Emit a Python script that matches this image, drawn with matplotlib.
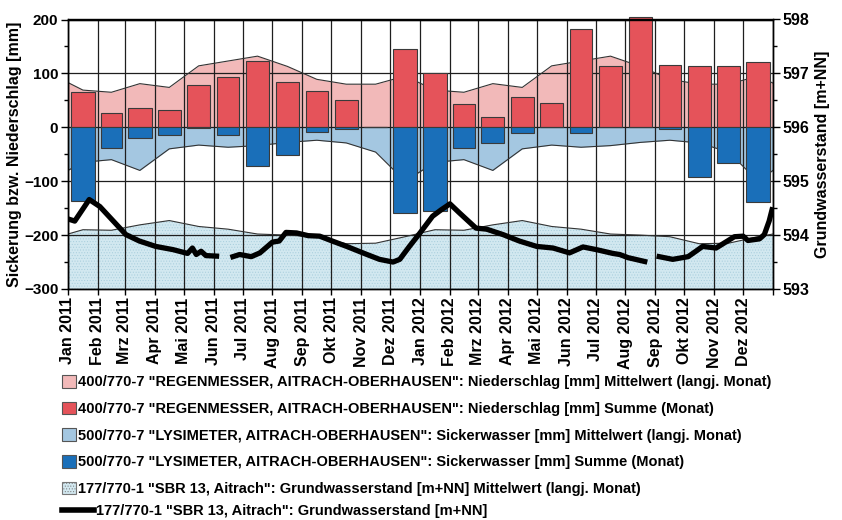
import numpy as np
import pandas as pd
import matplotlib
matplotlib.use('Agg')
import matplotlib.pyplot as plt
import matplotlib.transforms as mtransforms
from matplotlib.patches import Patch
from matplotlib.lines import Line2D

plt.rcParams['font.family'] = ['Liberation Sans', 'DejaVu Sans']
plt.rcParams['font.weight'] = 'bold'
plt.rcParams['hatch.linewidth'] = 0.4

# --- Daten ---
monat_labels = ['Jan 2011', 'Feb 2011', 'Mrz 2011', 'Apr 2011', 'Mai 2011', 'Jun 2011',
                'Jul 2011', 'Aug 2011', 'Sep 2011', 'Okt 2011', 'Nov 2011', 'Dez 2011',
                'Jan 2012', 'Feb 2012', 'Mrz 2012', 'Apr 2012', 'Mai 2012', 'Jun 2012',
                'Jul 2012', 'Aug 2012', 'Sep 2012', 'Okt 2012', 'Nov 2012', 'Dez 2012']

# Niederschlag Summe (Monat) [mm]
niederschlag = [66, 26, 35, 32, 78, 94, 123, 84, 68, 51, 1, 146,
                100, 44, 19, 57, 45, 182, 113, 204, 115, 113, 113, 121]
# Sickerwasser Summe (Monat) [mm]
sickerwasser = [-137, -39, -20, -14, -2, -14, -71, -52, -8, -4, 0, -159,
                -156, -39, -29, -11, 0, -10, 0, 0, -4, -93, -66, -138]

# langj. Monatsmittel (Rand Jan 2011 / Ende Dez 2012 separat)
niederschlag_mittel = [69, 65, 81, 74, 114, 123, 132, 113, 89, 80, 80, 95,
                       69, 65, 81, 74, 114, 123, 132, 113, 89, 80, 80, 95]
niederschlag_mittel_rand = (83, 82)
sicker_mittel = [-65, -60, -80, -40, -33, -37, -34, -28, -24, -29, -46, -100,
                 -65, -60, -80, -40, -33, -37, -34, -28, -24, -29, -46, -100]
sicker_mittel_rand = (-80, -80)
gw_mittel = [594.10, 594.09, 594.19, 594.27, 594.16, 594.11, 594.02, 594.00, 593.97, 593.84, 593.85, 593.97,
             594.10, 594.09, 594.19, 594.27, 594.16, 594.11, 594.02, 594.00, 593.97, 593.84, 593.85, 593.97]
gw_mittel_rand = (594.02, 594.02)

# Grundwasserstand [m+NN] (None = Luecke)
gw_datum = ['2011-01-01', '2011-01-08', '2011-01-23', '2011-02-03', '2011-02-17', '2011-03-02',
            '2011-03-16', '2011-04-02', '2011-04-20', '2011-05-05', '2011-05-10', '2011-05-14',
            '2011-05-19', '2011-05-24', '2011-06-04', '2011-06-12',
            '2011-06-21', '2011-06-28', '2011-07-10', '2011-07-19', '2011-08-01', '2011-08-08',
            '2011-08-15', '2011-08-26', '2011-09-07', '2011-09-19', '2011-10-02', '2011-10-17',
            '2011-11-07', '2011-11-20', '2011-12-04', '2011-12-11', '2011-12-21', '2012-01-01',
            '2012-01-14', '2012-01-23', '2012-01-28', '2012-02-01', '2012-02-11', '2012-02-28',
            '2012-03-10', '2012-03-27', '2012-04-13', '2012-05-01', '2012-05-18', '2012-06-04',
            '2012-06-18', '2012-07-02', '2012-07-19', '2012-07-26', '2012-08-04', '2012-08-09',
            '2012-08-21', '2012-08-28',
            '2012-09-05', '2012-09-19', '2012-10-05', '2012-10-13', '2012-10-20', '2012-11-03',
            '2012-11-12', '2012-11-22', '2012-12-01', '2012-12-06', '2012-12-18', '2012-12-23',
            '2012-12-28', '2012-12-31']
gw_stand = [594.30, 594.26, 594.66, 594.53, 594.26, 594.01,
            593.89, 593.79, 593.73, 593.66, 593.76, 593.64,
            593.70, 593.62, 593.61, None,
            593.60, 593.64, 593.60, 593.67, 593.87, 593.89,
            594.05, 594.04, 593.99, 593.98, 593.89, 593.79,
            593.64, 593.55, 593.50, 593.55, 593.79, 594.04,
            594.35, 594.47, 594.53, 594.58, 594.41, 594.13,
            594.11, 594.01, 593.89, 593.79, 593.76, 593.67,
            593.78, 593.73, 593.66, 593.64, 593.58, 593.56,
            593.51, None,
            593.60, 593.55, 593.60, 593.70, 593.79, 593.76,
            593.86, 593.97, 593.98, 593.90, 593.93, 594.01,
            594.26, 594.47]

farbe_n_mittel = '#f2b9b9'
farbe_n = '#e5535a'
farbe_s_mittel = '#a4c7e1'
farbe_s = '#1a6fb9'
farbe_gw = '#d2e8f0'
farbe_gw_hatch = '#a7cddc'

monate = pd.date_range('2011-01-01', periods=24, freq='MS')
tage = np.asarray(monate.days_in_month, dtype=float)
mitte = monate + pd.to_timedelta(tage / 2, unit='D')
start, ende = pd.Timestamp('2011-01-01'), pd.Timestamp('2013-01-01')
x_mittel = [start] + list(mitte) + [ende]

fig = plt.figure(figsize=(8.42, 5.2), dpi=100)
ax = fig.add_axes([68 / 842, 1 - 289 / 520, 705 / 842, 269.5 / 520])
ax2 = ax.twinx()
ax.set_xlim(start, ende)
ax.set_ylim(-300, 200)
ax2.set_ylim(593, 598)

# Grundwasser Mittel (auf rechter Skala, hinter Gitter)
gw_m = [gw_mittel_rand[0]] + gw_mittel + [gw_mittel_rand[1]]
ax.fill_between(x_mittel, 593, gw_m, transform=ax2.transData, facecolor=farbe_gw,
                edgecolor=farbe_gw_hatch, hatch='......', linewidth=0, zorder=1)
ax.plot(x_mittel, gw_m, transform=ax2.transData, color='#333333', lw=0.8, zorder=1.6)

# Niederschlag / Sickerwasser Mittel
n_m = [niederschlag_mittel_rand[0]] + niederschlag_mittel + [niederschlag_mittel_rand[1]]
s_m = [sicker_mittel_rand[0]] + sicker_mittel + [sicker_mittel_rand[1]]
ax.fill_between(x_mittel, 0, n_m, color=farbe_n_mittel, linewidth=0, zorder=1)
ax.plot(x_mittel, n_m, color='#333333', lw=0.8, zorder=1.6)
ax.fill_between(x_mittel, 0, s_m, color=farbe_s_mittel, linewidth=0, zorder=1)
ax.plot(x_mittel, s_m, color='#333333', lw=0.8, zorder=1.6)

# Monatssummen
ax.bar(mitte, niederschlag, width=tage * 0.78, color=farbe_n, edgecolor='#3a3a3a',
       linewidth=0.8, zorder=2, clip_on=False)
ax.bar(mitte, sickerwasser, width=tage * 0.78, color=farbe_s, edgecolor='#3a3a3a',
       linewidth=0.8, zorder=2)

# Grundwasserstand
gw_x = pd.to_datetime(gw_datum)
gw_y = np.array([np.nan if v is None else v for v in gw_stand])
ax2.plot(gw_x, gw_y, color='black', lw=3.8, solid_joinstyle='round', zorder=3)

# Achsen
ax.set_axisbelow('line')
ax.set_xticks(list(monate) + [ende])
ax.set_xticklabels(monat_labels + [''], rotation=90, fontsize=11.5, fontweight='bold')
versatz = mtransforms.ScaledTranslation(3 / 100, 0, fig.dpi_scale_trans)
for lab in ax.get_xticklabels():
    lab.set_transform(lab.get_transform() + versatz)
ax.set_yticks([-300, -200, -100, 0, 100, 200])
ax.set_yticks(np.arange(-250, 200, 100), minor=True)
ax2.set_yticks([593, 594, 595, 596, 597, 598])
ax2.set_yticks(np.arange(593.5, 598, 1), minor=True)
ax.grid(True, which='major', color='#1e1e1e', lw=0.9)
ax.tick_params(axis='x', length=4, width=1, pad=2)
ax.tick_params(axis='y', which='major', length=5, width=1, labelsize=11, pad=2)
ax.tick_params(axis='y', which='minor', length=3, width=1)
ax2.tick_params(axis='y', which='major', length=5, width=1, labelsize=11.5, pad=2)
ax2.tick_params(axis='y', which='minor', length=3, width=1)
for lab in ax.get_yticklabels() + ax2.get_yticklabels():
    lab.set_fontweight('bold')
for sp in list(ax.spines.values()) + list(ax2.spines.values()):
    sp.set_linewidth(1)
ax.set_ylabel('Sickerung bzw. Niederschlag [mm]', fontsize=11.5, fontweight='bold')
ax.yaxis.set_label_coords(-46 / 705, 0.5)
ax2.set_ylabel('Grundwasserstand [m+NN]', fontsize=11.5, fontweight='bold', labelpad=4)

# Legende
handles = [
    Patch(facecolor=farbe_n_mittel, edgecolor='#555555', lw=0.8),
    Patch(facecolor=farbe_n, edgecolor='#555555', lw=0.8),
    Patch(facecolor=farbe_s_mittel, edgecolor='#555555', lw=0.8),
    Patch(facecolor=farbe_s, edgecolor='#555555', lw=0.8),
    Patch(facecolor=farbe_gw, edgecolor='#777777', lw=0.8, hatch='......'),
]
labels = [
    '400/770-7 "REGENMESSER, AITRACH-OBERHAUSEN": Niederschlag [mm] Mittelwert (langj. Monat)',
    '400/770-7 "REGENMESSER, AITRACH-OBERHAUSEN": Niederschlag [mm] Summe (Monat)',
    '500/770-7 "LYSIMETER, AITRACH-OBERHAUSEN": Sickerwasser [mm] Mittelwert (langj. Monat)',
    '500/770-7 "LYSIMETER, AITRACH-OBERHAUSEN": Sickerwasser [mm] Summe (Monat)',
    '177/770-1 "SBR 13, Aitrach": Grundwasserstand [m+NN] Mittelwert (langj. Monat)',
]
leg1 = fig.legend(handles, labels, loc='upper left', bbox_to_anchor=(62 / 842, 1 - 375 / 520),
                  frameon=False, fontsize=10.5, handlelength=0.95, handleheight=0.95,
                  handletextpad=0.15, labelspacing=0.85, borderpad=0, borderaxespad=0)
for t in leg1.get_texts():
    t.set_fontweight('bold')
leg2 = fig.legend([Line2D([], [], color='black', lw=4)],
                  ['177/770-1 "SBR 13, Aitrach": Grundwasserstand [m+NN]'],
                  loc='upper left', bbox_to_anchor=(62 / 842, 1 - 504 / 520),
                  frameon=False, fontsize=10.5, handlelength=2.2, handletextpad=0.15,
                  borderpad=0, borderaxespad=0)
for t in leg2.get_texts():
    t.set_fontweight('bold')

fig.savefig('out.png', dpi=100)
